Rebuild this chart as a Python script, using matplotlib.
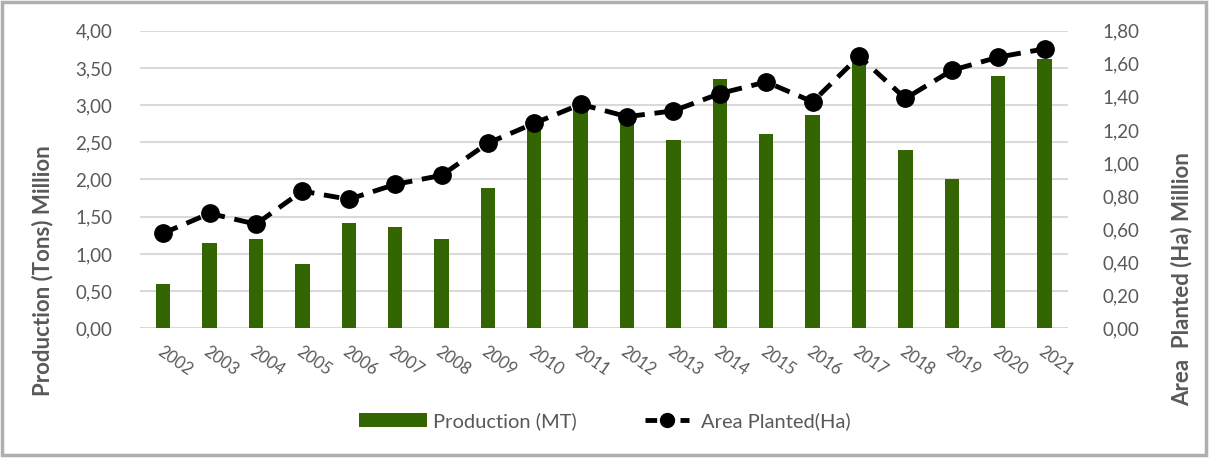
import numpy as np
import matplotlib.pyplot as plt
from matplotlib.lines import Line2D
from matplotlib.patches import Patch, Rectangle

plt.rcParams['font.family'] = ['Lato', 'DejaVu Sans']

years = ['2002', '2003', '2004', '2005', '2006', '2007', '2008', '2009', '2010', '2011',
         '2012', '2013', '2014', '2015', '2016', '2017', '2018', '2019', '2020', '2021']
production = [0.60, 1.15, 1.20, 0.86, 1.42, 1.36, 1.20, 1.88, 2.72, 2.96,
              2.85, 2.53, 3.35, 2.61, 2.87, 3.58, 2.39, 2.00, 3.39, 3.62]
area = [0.575, 0.695, 0.63, 0.83, 0.78, 0.87, 0.925, 1.12, 1.24, 1.355,
        1.28, 1.315, 1.42, 1.49, 1.37, 1.645, 1.39, 1.56, 1.64, 1.69]
left_ticks = [0, 0.5, 1.0, 1.5, 2.0, 2.5, 3.0, 3.5, 4.0]
right_ticks = [0, 0.2, 0.4, 0.6, 0.8, 1.0, 1.2, 1.4, 1.6, 1.8]

green = '#336600'
grey_txt = '#595959'

fig = plt.figure(figsize=(12.12, 4.58), dpi=100)
ax = fig.add_axes([0.1155, 0.2832, 0.7655, 0.6498])
ax2 = ax.twinx()

x = np.arange(len(years))
ax.bar(x, production, width=0.31, color=green, zorder=2)
ax2.plot(x, area, color='black', lw=3.5, dashes=(3.2, 2.0), marker='o',
         markersize=12.5, zorder=3)

ax.set_xlim(-0.5, len(years) - 0.5)
ax.set_ylim(0, 4)
ax2.set_ylim(0, 1.8)
ax.set_yticks(left_ticks)
ax.set_yticklabels([f'{v:.2f}'.replace('.', ',') for v in left_ticks])
ax2.set_yticks(right_ticks)
ax2.set_yticklabels([f'{v:.2f}'.replace('.', ',') for v in right_ticks])
ax.grid(axis='y', color='#d9d9d9', lw=1.5, zorder=0)
ax.set_axisbelow(True)

for a in (ax, ax2):
    for s in a.spines.values():
        s.set_visible(False)
    a.tick_params(length=0, labelsize=13.5, labelcolor=grey_txt)
ax.tick_params(axis='y', pad=20)
ax2.tick_params(axis='y', pad=25)
ax2.set_zorder(ax.get_zorder() + 1)
ax2.patch.set_visible(False)

ax.set_xticks(x)
ax.set_xticklabels(years, rotation=-35, ha='left', va='top',
                   rotation_mode='anchor', fontsize=12)
ax.tick_params(axis='x', pad=11)

fig.text(0.035, 0.41, 'Production (Tons) Million', rotation=90, ha='center',
         va='center', fontsize=16, fontweight='bold', color=grey_txt)
fig.text(0.975, 0.39, 'Area  Planted (Ha) Million', rotation=90, ha='center',
         va='center', fontsize=16, fontweight='bold', color=grey_txt)

# two legend entries, each with its own handle length
bar_handle = Patch(facecolor=green)
line_handle = Line2D([], [], color='black', lw=3.5, dashes=(2.4, 1.2),
                     marker='o', markersize=10)
leg1 = fig.legend([bar_handle], ['Production (MT)'], loc='center',
                  bbox_to_anchor=(0.386, 0.081), frameon=False, fontsize=14.5,
                  labelcolor=grey_txt, handlelength=3.4, handleheight=0.7,
                  handletextpad=0.3)
fig.legend([line_handle], ['Area Planted(Ha)'], loc='center',
           bbox_to_anchor=(0.617, 0.081), frameon=False, fontsize=14.5,
           labelcolor=grey_txt, handlelength=2.2, handletextpad=0.6)

# outer frame
fig.patches.append(Rectangle((0.002, 0.006), 0.993, 0.99, transform=fig.transFigure,
                             fill=False, edgecolor='#b0aeae', lw=2.5))

fig.savefig('out.png', dpi=100)
